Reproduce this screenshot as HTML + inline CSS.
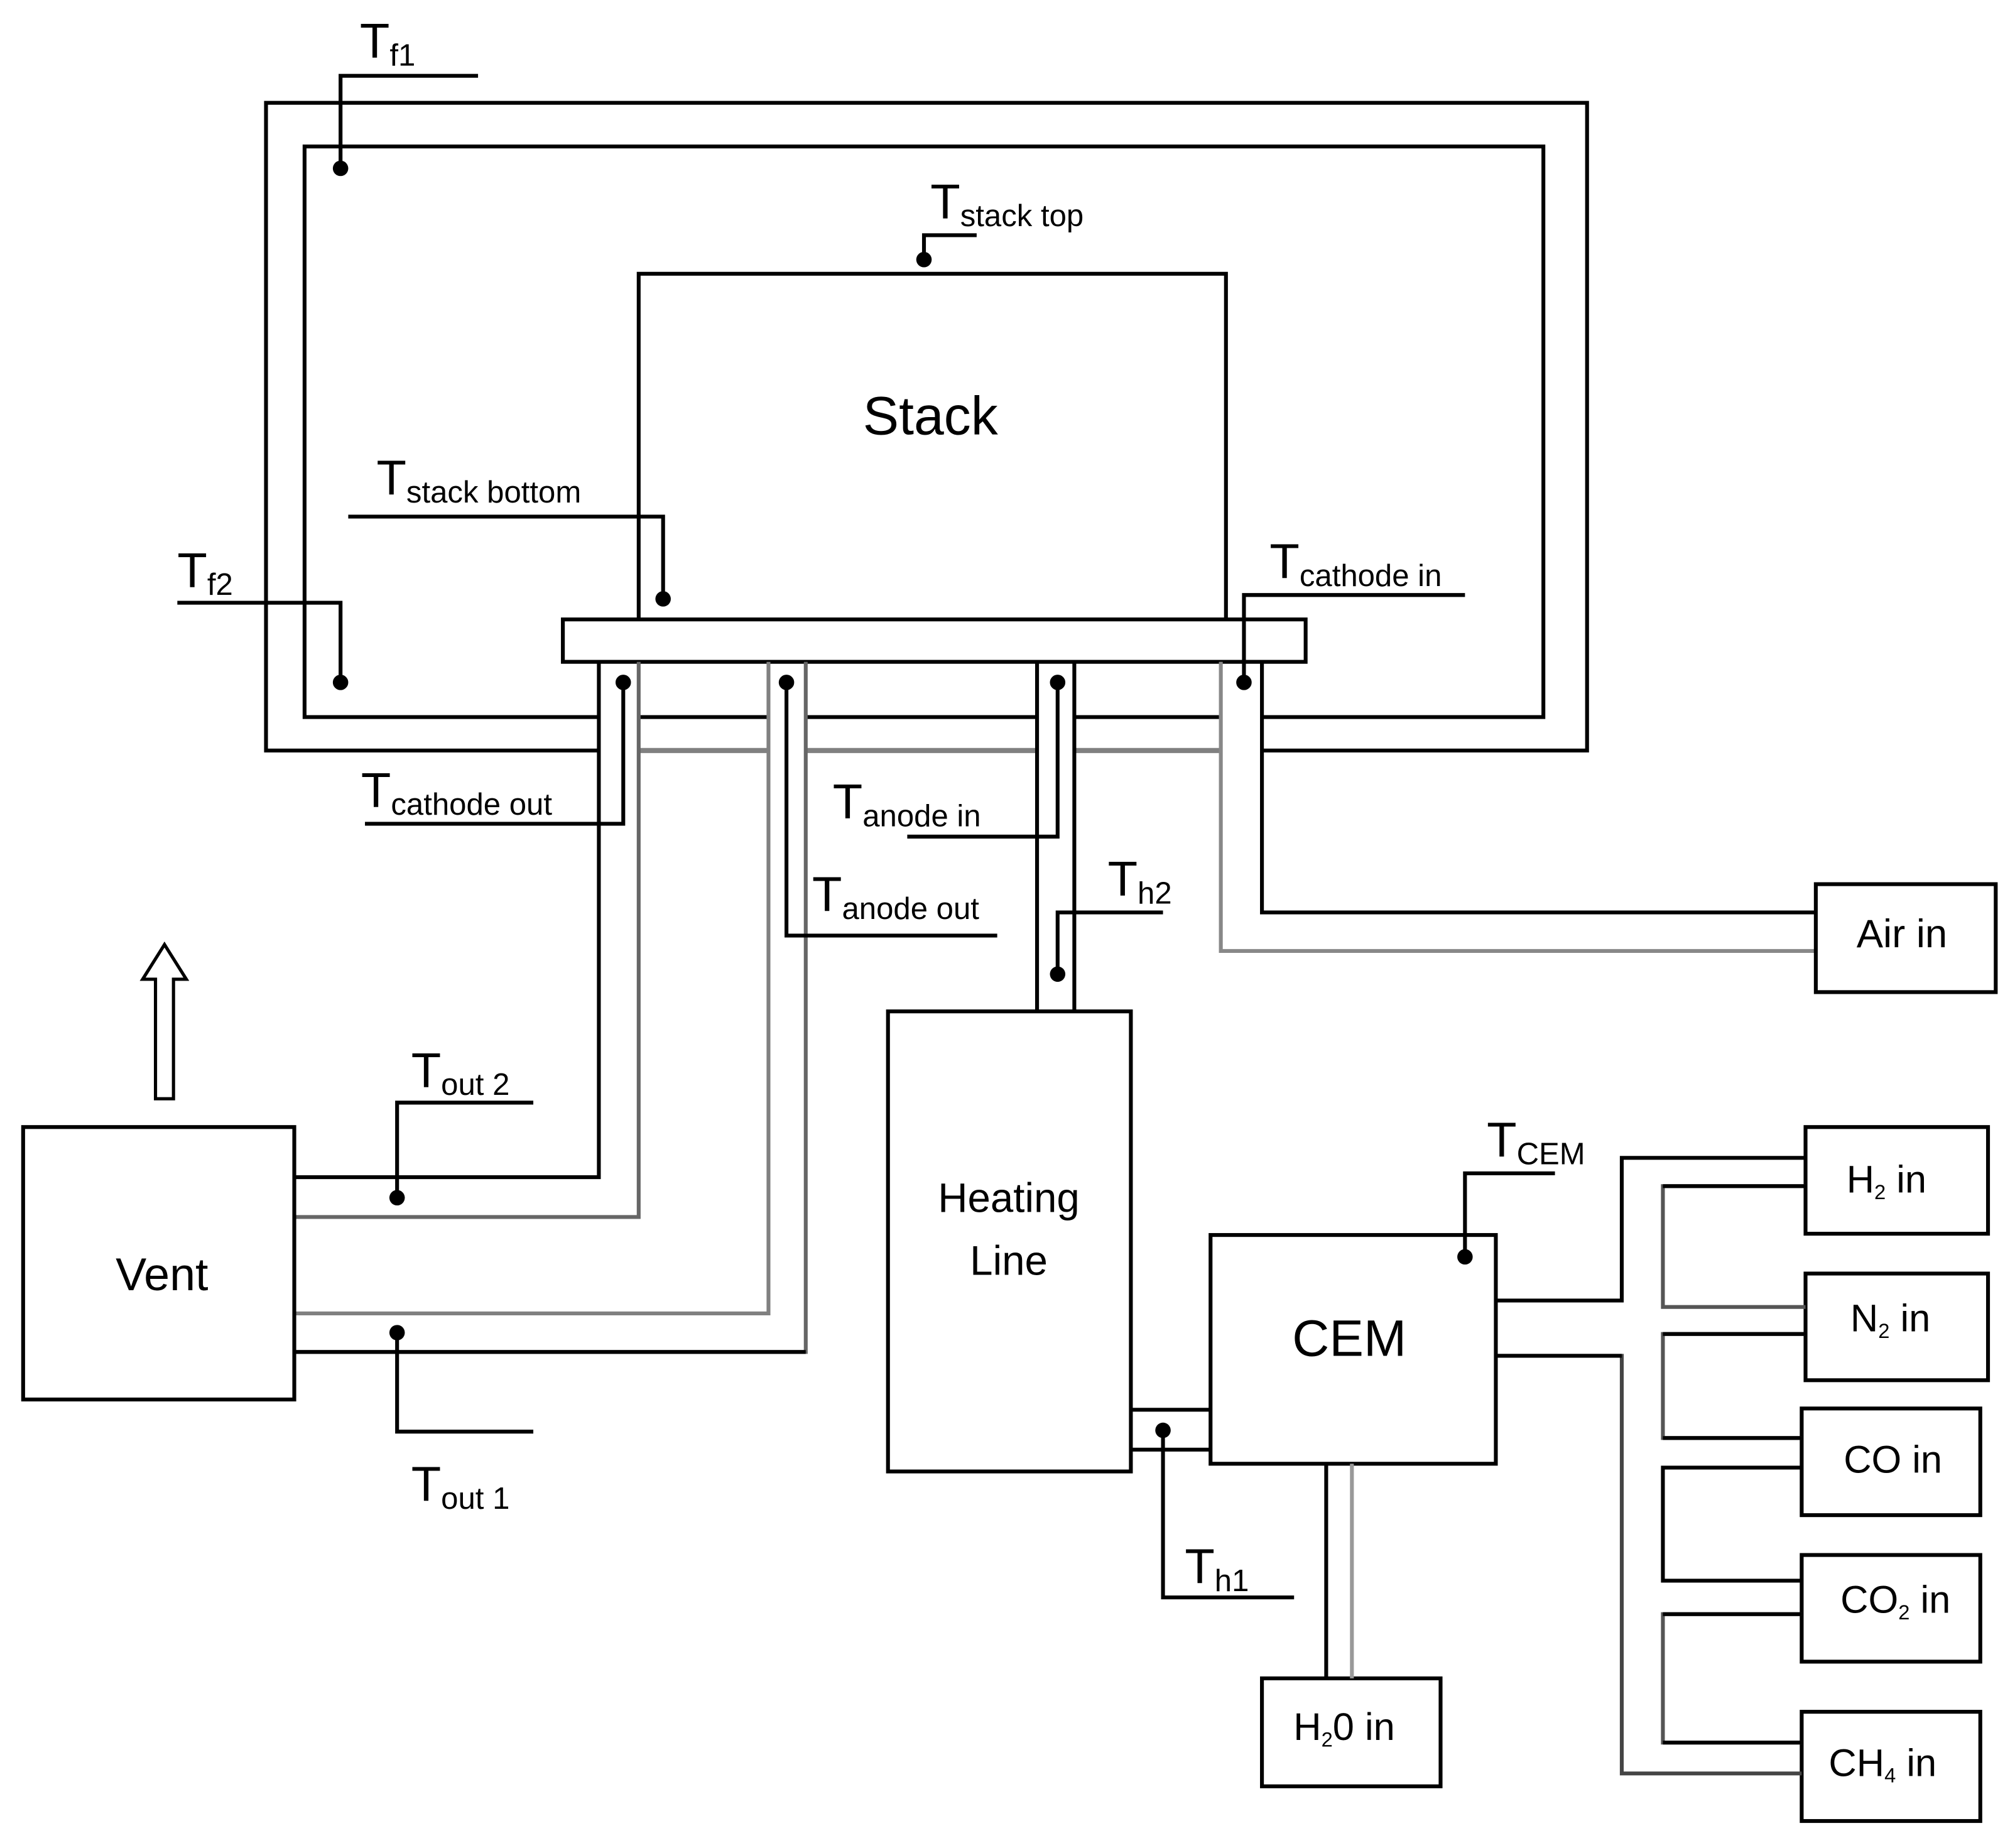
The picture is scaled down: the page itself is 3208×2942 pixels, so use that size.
<!DOCTYPE html>
<html><head><meta charset="utf-8"><style>
html,body{margin:0;padding:0;background:#fff}
svg{display:block}
text{font-family:"Liberation Sans",sans-serif;fill:#000}
</style></head><body>
<svg width="3208" height="2942" viewBox="0 0 1568 1438" preserveAspectRatio="none" xmlns="http://www.w3.org/2000/svg">
<g fill="none" stroke="#000" stroke-width="3">
<!-- outer frame -->
<path d="M466,584 H207 V80 H1235 V584 H982"/>
<path d="M497,584 H598 M627,584 H807 M836,584 H950" stroke="#808080" stroke-width="4"/>
<!-- inner frame -->
<path d="M466,558 H237 V114 H1201 V558 H982"/>
<path d="M497,558 H598 M627,558 H807 M836,558 H950"/>
<!-- stack -->
<path d="M497,482 V213 H954 V482"/>
<rect x="438" y="482" width="578" height="33"/>
<!-- cathode out pipes -->
<path d="M466,515 V916 H229"/>
<path d="M497,515 V947 H229" stroke="#666"/>
<!-- anode out pipes -->
<path d="M598,515 V1022 H229" stroke="#808080"/>
<path d="M627,515 V1052 H229" stroke="#666"/>
<path d="M627,1052 H229"/>
<!-- anode in -->
<path d="M807,515 V787 M836,515 V787"/>
<!-- cathode in -->
<path d="M982,515 V710 H1413"/>
<path d="M950,515 V740 H1413" stroke="#888"/>
<!-- boxes -->
<rect x="1413" y="688" width="140" height="84"/>
<rect x="18" y="877" width="211" height="212"/>
<rect x="691" y="787" width="189" height="358"/>
<rect x="942" y="961" width="222" height="178"/>
<rect x="982" y="1306" width="139" height="84"/>
<rect x="1405" y="877" width="142" height="83"/>
<rect x="1405" y="991" width="142" height="83"/>
<rect x="1402" y="1096" width="139" height="83"/>
<rect x="1402" y="1210" width="139" height="83"/>
<rect x="1402" y="1332" width="139" height="85"/>
<!-- heating to CEM -->
<path d="M880,1097 H942 M880,1128 H942"/>
<!-- CEM to H2O -->
<path d="M1032,1139 V1306"/>
<path d="M1052,1139 V1306" stroke="#999"/>
<!-- gas manifold -->
<path d="M1164,1012 H1262 V901 H1405"/>
<path d="M1164,1055 H1262 V1380 H1402" stroke="#444"/>
<path d="M1164,1055 H1262"/>
<path d="M1405,923 H1294 V1017 H1405" stroke="#555"/>
<path d="M1405,923 H1294"/>
<path d="M1405,1038 H1294 V1119 H1402" stroke="#555"/>
<path d="M1402,1119 H1294 M1405,1038 H1294"/>
<path d="M1402,1142 H1294 V1230 H1402"/>
<path d="M1402,1256 H1294 V1356 H1402" stroke="#555"/>
<path d="M1402,1256 H1294 M1294,1356 H1402"/>
<!-- sensor leads -->
<path d="M265,131 V59 H372"/>
<path d="M265,531 V469 H138"/>
<path d="M719,202 V183 H760"/>
<path d="M516,466 V402 H271"/>
<path d="M968,531 V463 H1140"/>
<path d="M485,531 V641 H284"/>
<path d="M823,531 V651 H706"/>
<path d="M612,531 V728 H776"/>
<path d="M823,758 V710 H905"/>
<path d="M309,932 V858 H415"/>
<path d="M309,1037 V1114 H415"/>
<path d="M1140,978 V913 H1210"/>
<path d="M905,1113 V1243 H1007"/>
<!-- arrow -->
<path d="M121,855 V762 H111 L128,735 L145,762 H135 V855 Z" stroke-width="2.5"/>
</g>
<g fill="#000">
<circle cx="265" cy="131" r="6"/><circle cx="265" cy="531" r="6"/>
<circle cx="719" cy="202" r="6"/><circle cx="516" cy="466" r="6"/>
<circle cx="968" cy="531" r="6"/><circle cx="485" cy="531" r="6"/>
<circle cx="823" cy="531" r="6"/><circle cx="612" cy="531" r="6"/>
<circle cx="823" cy="758" r="6"/><circle cx="309" cy="932" r="6"/>
<circle cx="309" cy="1037" r="6"/><circle cx="1140" cy="978" r="6"/>
<circle cx="905" cy="1113" r="6"/>
</g>
<g font-size="40">
<text x="724" y="338" text-anchor="middle" font-size="42">Stack</text>
<text x="126" y="1004" text-anchor="middle" font-size="36">Vent</text>
<text x="785" y="943" text-anchor="middle" font-size="32">Heating</text>
<text x="785" y="992" text-anchor="middle" font-size="32">Line</text>
<text x="1050" y="1055" text-anchor="middle" font-size="40">CEM</text>
<text x="1480" y="737" text-anchor="middle" font-size="31">Air  in</text>
<text x="1046" y="1354" text-anchor="middle" font-size="30">H<tspan font-size="16" dy="5">2</tspan><tspan dy="-5">0 in</tspan></text>
<text x="1468" y="928" text-anchor="middle" font-size="30">H<tspan font-size="16" dy="5">2</tspan><tspan dy="-5"> in</tspan></text>
<text x="1471" y="1036" text-anchor="middle" font-size="30">N<tspan font-size="16" dy="5">2</tspan><tspan dy="-5"> in</tspan></text>
<text x="1473" y="1146" text-anchor="middle" font-size="30">CO in</text>
<text x="1475" y="1255" text-anchor="middle" font-size="30">CO<tspan font-size="16" dy="5">2</tspan><tspan dy="-5"> in</tspan></text>
<text x="1465" y="1382" text-anchor="middle" font-size="30">CH<tspan font-size="16" dy="5">4</tspan><tspan dy="-5"> in</tspan></text>
</g>
<g font-size="38">
<text x="280" y="45">T<tspan font-size="24" dy="6">f1</tspan></text>
<text x="138" y="457">T<tspan font-size="24" dy="6">f2</tspan></text>
<text x="724" y="170">T<tspan font-size="24" dy="6">stack top</tspan></text>
<text x="293" y="385">T<tspan font-size="24" dy="6">stack bottom</tspan></text>
<text x="988" y="450">T<tspan font-size="24" dy="6">cathode in</tspan></text>
<text x="281" y="628">T<tspan font-size="24" dy="6">cathode out</tspan></text>
<text x="648" y="637">T<tspan font-size="24" dy="6">anode in</tspan></text>
<text x="632" y="709">T<tspan font-size="24" dy="6">anode out</tspan></text>
<text x="862" y="697">T<tspan font-size="24" dy="6">h2</tspan></text>
<text x="320" y="846">T<tspan font-size="24" dy="6">out 2</tspan></text>
<text x="320" y="1168">T<tspan font-size="24" dy="6">out 1</tspan></text>
<text x="1157" y="900">T<tspan font-size="24" dy="6">CEM</tspan></text>
<text x="922" y="1232">T<tspan font-size="24" dy="6">h1</tspan></text>
</g>
</svg>
</body></html>
